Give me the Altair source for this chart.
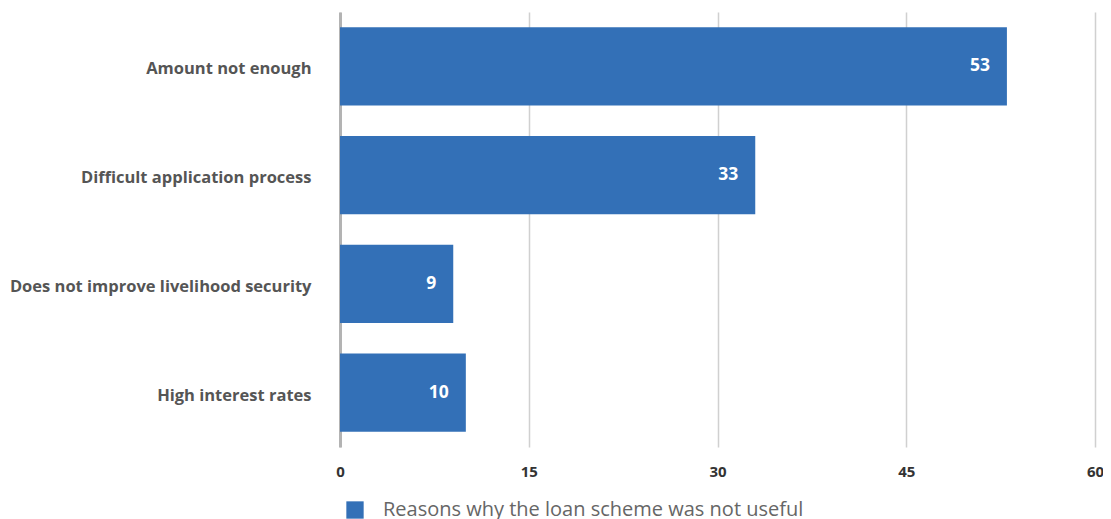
import altair as alt
import pandas as pd

categories = ["Amount not enough", "Difficult application process",
              "Does not improve livelihood security", "High interest rates"]
values = [53, 33, 9, 10]
series = "Reasons why the loan scheme was not useful"

df = pd.DataFrame({"reason": categories, "value": values, "series": [series] * len(values)})

FONT = "Open Sans"
base = alt.Chart(df)

bars = base.mark_bar(color="#3370b7").encode(
    y=alt.Y("reason:N", sort=categories, title=None,
            scale=alt.Scale(paddingInner=0.28, paddingOuter=0.14),
            axis=alt.Axis(labelFont=FONT, labelFontSize=16.5, labelFontWeight="bold",
                          labelColor="#555555", labelPadding=29, ticks=False, labelOffset=3,
                          domainColor="#b3b3b3", domainWidth=3, labelLimit=400)),
    x=alt.X("value:Q", title=None,
            scale=alt.Scale(domain=[0, 60], nice=False),
            axis=alt.Axis(values=[0, 15, 30, 45, 60], labelFont=FONT, labelFontSize=15,
                          labelFontWeight="bold", labelColor="#333333", labelPadding=17,
                          labelFlush=False,
                          ticks=False, domain=False, gridColor="#d0d0d0", gridWidth=1.5)),
    color=alt.Color("series:N", scale=alt.Scale(range=["#3370b7"]), title=None,
                    legend=alt.Legend(orient="none", legendX=5, legendY=488,
                                      symbolType="square", symbolSize=300,
                                      symbolStrokeWidth=0, labelFont=FONT,
                                      labelFontSize=20, labelColor="#666666",
                                      labelLimit=600, symbolOffset=0, labelOffset=18)),
)

text = base.mark_text(align="right", baseline="middle", dx=-17, color="white",
                      font=FONT, fontSize=17.5, fontWeight="bold").encode(
    y=alt.Y("reason:N", sort=categories),
    x=alt.X("value:Q"),
    text=alt.Text("value:Q"),
)

chart = (bars + text).properties(
    width=755, height=435,
    autosize=alt.AutoSizeParams(type="none"),
    padding={"left": 332, "top": 4, "right": 8, "bottom": 72},
).configure_view(stroke=None)

chart.save("out.html", embed_options={"renderer": "svg", "actions": False})
